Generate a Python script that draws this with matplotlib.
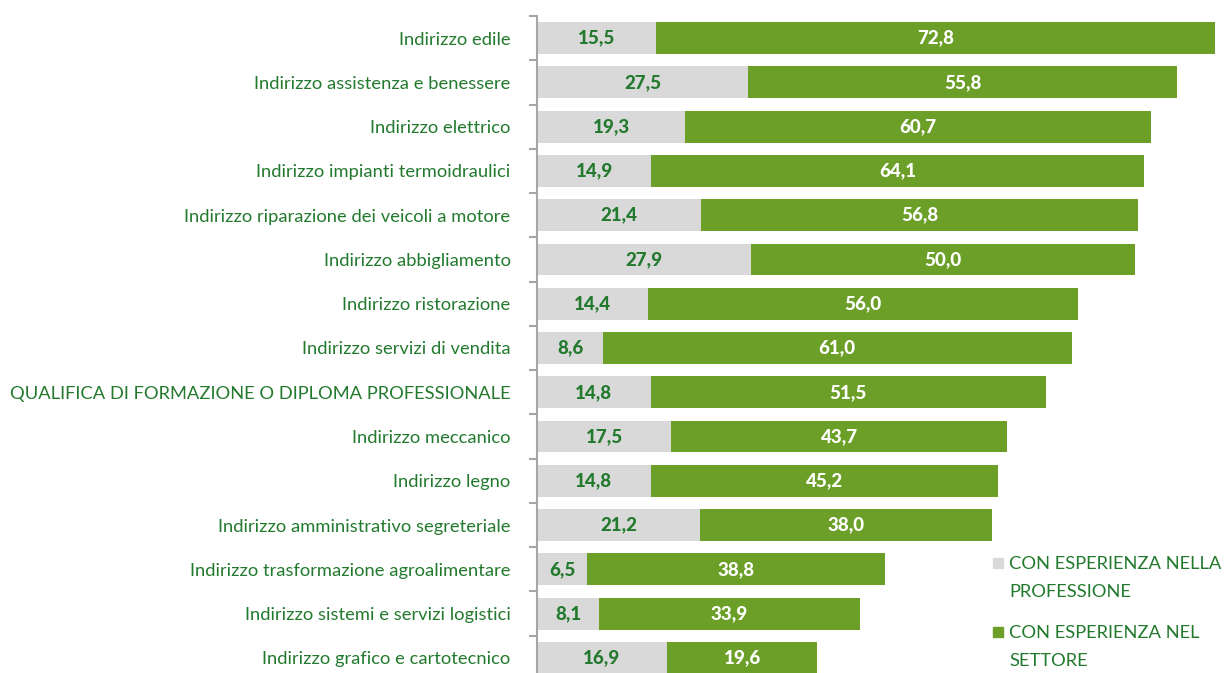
import matplotlib.pyplot as plt
from matplotlib.patches import Rectangle
from matplotlib.ticker import FixedLocator

categories = [
    "Indirizzo edile",
    "Indirizzo assistenza e benessere",
    "Indirizzo elettrico",
    "Indirizzo impianti termoidraulici",
    "Indirizzo riparazione dei veicoli a motore",
    "Indirizzo abbigliamento",
    "Indirizzo ristorazione",
    "Indirizzo servizi di vendita",
    "QUALIFICA DI FORMAZIONE O DIPLOMA PROFESSIONALE",
    "Indirizzo meccanico",
    "Indirizzo legno",
    "Indirizzo amministrativo segreteriale",
    "Indirizzo trasformazione agroalimentare",
    "Indirizzo sistemi e servizi logistici",
    "Indirizzo grafico e cartotecnico",
]
professione = [15.5, 27.5, 19.3, 14.9, 21.4, 27.9, 14.4, 8.6, 14.8, 17.5, 14.8, 21.2, 6.5, 8.1, 16.9]
settore = [72.8, 55.8, 60.7, 64.1, 56.8, 50.0, 56.0, 61.0, 51.5, 43.7, 45.2, 38.0, 38.8, 33.9, 19.6]
legend_labels = ["CON ESPERIENZA NELLA\nPROFESSIONE", "CON ESPERIENZA NEL\nSETTORE"]

GRAY = "#D9D9D9"
GREEN = "#6C9F28"
TEXT = "#237A2E"

plt.rcParams['font.family'] = ['Lato', 'DejaVu Sans']

W, H = 1226, 673
fig = plt.figure(figsize=(W / 100, H / 100), dpi=100)
# axes placed in pixels: bars start at x=537, bands from y=16 to y=680 (cut off)
x0, scale = 537, 7.68
xmax = 90
ax = fig.add_axes([x0 / W, (H - 680) / H, xmax * scale / W, (680 - 16) / H])

y = list(range(len(categories)))
ax.barh(y, professione, height=0.72, color=GRAY)
ax.barh(y, settore, left=professione, height=0.72, color=GREEN)

for i in y:
    p, s = professione[i], settore[i]
    ax.text(p / 2, i, f"{p:.1f}".replace(".", ","), ha="center", va="center",
            color=TEXT, fontsize=13.5, fontweight="black")
    ax.text(p + s / 2, i, f"{s:.1f}".replace(".", ","), ha="center", va="center",
            color="white", fontsize=13.5, fontweight="black")

ax.set_xlim(0, xmax)
ax.set_ylim(len(categories) - 0.5, -0.5)
ax.set_yticks(y)
ax.set_yticklabels(categories, fontsize=13.25, color=TEXT)
ax.yaxis.set_minor_locator(FixedLocator([i - 0.5 for i in range(len(categories) + 1)]))
ax.tick_params(axis="y", which="major", length=0, pad=19)
ax.tick_params(axis="y", which="minor", length=6, color="#A6A6A6", width=1.5)
ax.set_xticks([])
for side in ["top", "right", "bottom"]:
    ax.spines[side].set_visible(False)
ax.spines["left"].set_color("#A6A6A6")
ax.spines["left"].set_linewidth(1.5)

# legend drawn by hand so the square sits on the first text line
for lab, col, ypx in zip(legend_labels, [GRAY, GREEN], [563, 632]):
    fig.patches.append(Rectangle((993 / W, 1 - (ypx + 5) / H), 10 / W, 10 / H,
                                 transform=fig.transFigure, color=col))
    fig.text(1009 / W, 1 - (ypx - 7) / H, lab, ha="left", va="top",
             fontsize=13.25, color=TEXT, linespacing=1.9)

fig.savefig("out.png", dpi=100)
